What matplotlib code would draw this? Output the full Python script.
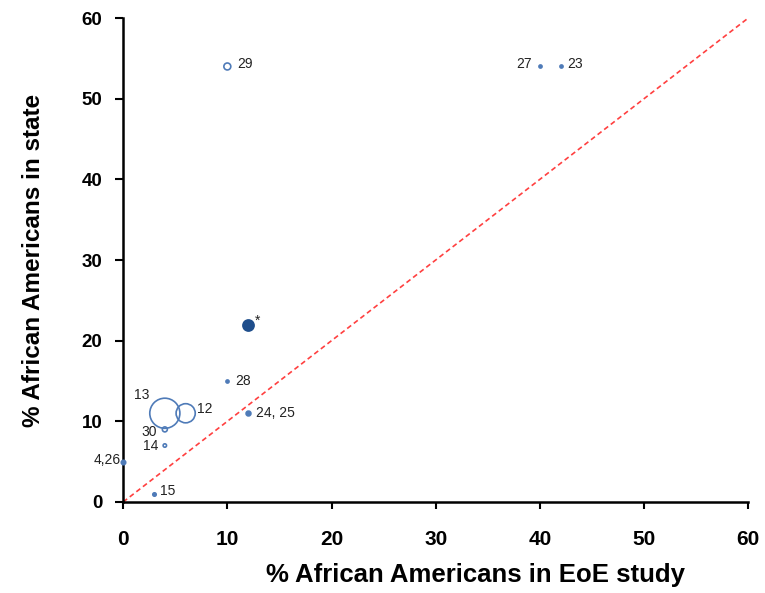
import matplotlib.pyplot as plt

plt.rcParams['font.family'] = ['Liberation Sans', 'DejaVu Sans']

# study points: x = % in EoE study, y = % in state
labels = ['29', '27', '23', '*', '28', '13', '12', '30', '14', '4,26', '15', '24, 25']
studyPct = [10, 40, 42, 12, 10, 4, 6, 4, 4, 0, 3, 12]
statePct = [54, 54, 54, 22, 15, 11, 11, 9, 7, 5, 1, 11]
sizes = [25, 5, 5, 64, 5, 470, 190, 13, 6, 10, 6, 12]
filled = [False, True, True, True, True, False, False, False, False, True, True, True]

# label offsets in points, and which side the text sits on
offsets = [(7, 2), (-6, 2), (5, 2), (5, 3), (6, 0), (-11, 13), (8, 3),
           (-6, -2), (-5, 0), (-2, 1), (4, 2), (6, 0)]
sides = ['left', 'right', 'left', 'left', 'left', 'right', 'left',
         'right', 'right', 'right', 'left', 'left']

fig = plt.figure(figsize=(7.65, 5.93), dpi=100)
ax = fig.add_axes([0.161, 0.1535, 0.817, 0.816])

edgeBlue = '#4f7bb8'
darkBlue = '#1f4e8c'
for i in range(len(labels)):
    col = darkBlue if labels[i] == '*' else edgeBlue
    ax.scatter(studyPct[i], statePct[i], s=sizes[i],
               facecolors=col if filled[i] else 'none',
               edgecolors=col, linewidths=1.2, zorder=3, clip_on=False)
    ax.annotate(labels[i], (studyPct[i], statePct[i]), xytext=offsets[i],
                textcoords='offset points', fontsize=10, va='center',
                ha=sides[i], color='#222222')

ax.plot([0, 60], [0, 60], linestyle=(0, (3, 2)), color='#ff4040', linewidth=1.2, zorder=2)

ax.set_xlim(0, 60)
ax.set_ylim(0, 60)
ax.set_xticks(range(0, 61, 10))
ax.set_yticks(range(0, 61, 10))
ax.spines['top'].set_visible(False)
ax.spines['right'].set_visible(False)
ax.spines['left'].set_linewidth(1.8)
ax.spines['bottom'].set_linewidth(1.8)
ax.tick_params(axis='x', direction='out', length=5, width=1.5, labelsize=15, pad=15)
ax.tick_params(axis='y', direction='out', length=6, width=1.5, labelsize=13.5, pad=9)
for t in ax.get_xticklabels() + ax.get_yticklabels():
    t.set_fontweight('bold')

ax.set_xlabel('% African Americans in EoE study', fontsize=18.5, fontweight='bold', va='center')
ax.xaxis.set_label_coords(0.563, -0.151)
ax.set_ylabel('% African Americans in state', fontsize=17.5, fontweight='bold', labelpad=26)

fig.savefig('out.png', dpi=100)
